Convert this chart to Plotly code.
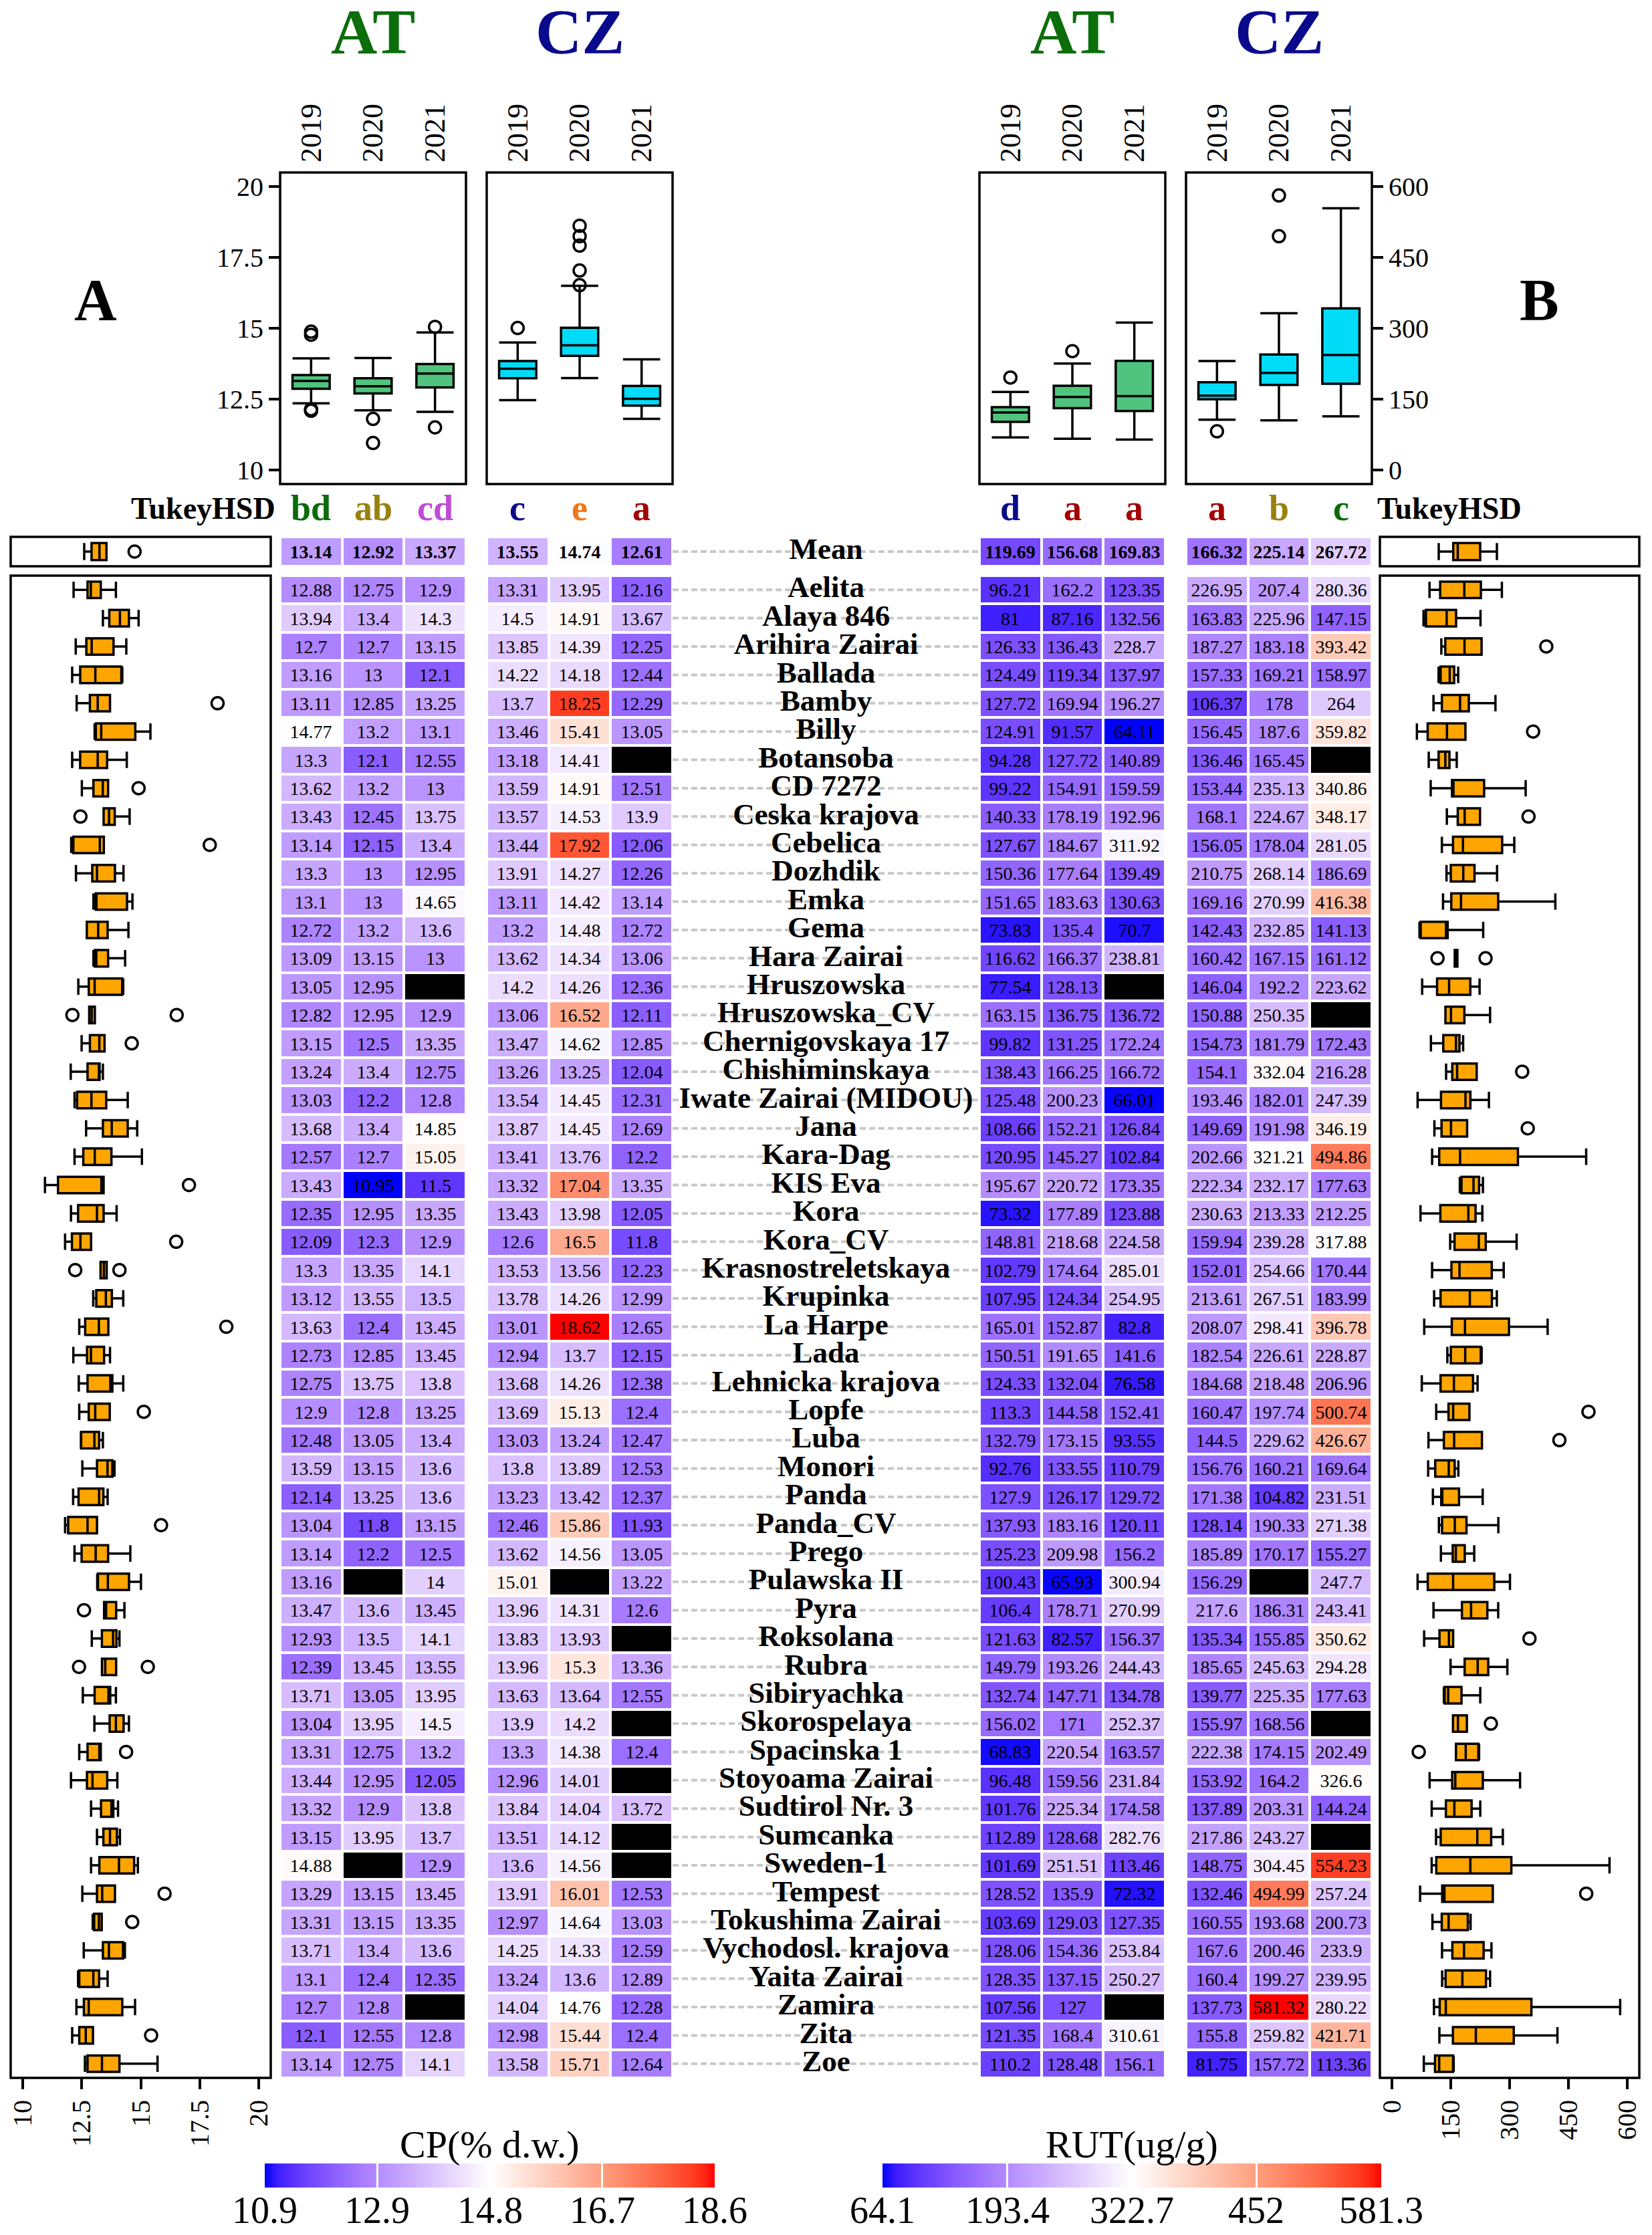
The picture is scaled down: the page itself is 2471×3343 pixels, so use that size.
import plotly.graph_objects as go
import numpy as np

# ---------------- DATA ----------------
varieties = ["Aelita", "Alaya 846", "Arihira Zairai", "Ballada", "Bamby", "Billy", "Botansoba",
             "CD 7272", "Ceska krajova", "Cebelica", "Dozhdik", "Emka", "Gema", "Hara Zairai",
             "Hruszowska", "Hruszowska_CV", "Chernigovskaya 17", "Chishiminskaya",
             "Iwate Zairai (MIDOU)", "Jana", "Kara-Dag", "KIS Eva", "Kora", "Kora_CV",
             "Krasnostreletskaya", "Krupinka", "La Harpe", "Lada", "Lehnicka krajova", "Lopfe",
             "Luba", "Monori", "Panda", "Panda_CV", "Prego", "Pulawska II", "Pyra", "Roksolana",
             "Rubra", "Sibiryachka", "Skorospelaya", "Spacinska 1", "Stoyoama Zairai",
             "Sudtirol Nr. 3", "Sumcanka", "Sweden-1", "Tempest", "Tokushima Zairai",
             "Vychodosl. krajova", "Yaita Zairai", "Zamira", "Zita", "Zoe"]
years = ["2019", "2020", "2021"]

cp_at_2019 = [12.88, 13.94, 12.7, 13.16, 13.11, 14.77, 13.3, 13.62, 13.43, 13.14, 13.3, 13.1, 12.72, 13.09,
              13.05, 12.82, 13.15, 13.24, 13.03, 13.68, 12.57, 13.43, 12.35, 12.09, 13.3, 13.12, 13.63,
              12.73, 12.75, 12.9, 12.48, 13.59, 12.14, 13.04, 13.14, 13.16, 13.47, 12.93, 12.39, 13.71,
              13.04, 13.31, 13.44, 13.32, 13.15, 14.88, 13.29, 13.31, 13.71, 13.1, 12.7, 12.1, 13.14]
cp_at_2020 = [12.75, 13.4, 12.7, 13, 12.85, 13.2, 12.1, 13.2, 12.45, 12.15, 13, 13, 13.2, 13.15, 12.95,
              12.95, 12.5, 13.4, 12.2, 13.4, 12.7, 10.95, 12.95, 12.3, 13.35, 13.55, 12.4, 12.85, 13.75,
              12.8, 13.05, 13.15, 13.25, 11.8, 12.2, None, 13.6, 13.5, 13.45, 13.05, 13.95, 12.75, 12.95,
              12.9, 13.95, None, 13.15, 13.15, 13.4, 12.4, 12.8, 12.55, 12.75]
cp_at_2021 = [12.9, 14.3, 13.15, 12.1, 13.25, 13.1, 12.55, 13, 13.75, 13.4, 12.95, 14.65, 13.6, 13, None,
              12.9, 13.35, 12.75, 12.8, 14.85, 15.05, 11.5, 13.35, 12.9, 14.1, 13.5, 13.45, 13.45, 13.8,
              13.25, 13.4, 13.6, 13.6, 13.15, 12.5, 14, 13.45, 14.1, 13.55, 13.95, 14.5, 13.2, 12.05,
              13.8, 13.7, 12.9, 13.45, 13.35, 13.6, 12.35, None, 12.8, 14.1]
cp_cz_2019 = [13.31, 14.5, 13.85, 14.22, 13.7, 13.46, 13.18, 13.59, 13.57, 13.44, 13.91, 13.11, 13.2,
              13.62, 14.2, 13.06, 13.47, 13.26, 13.54, 13.87, 13.41, 13.32, 13.43, 12.6, 13.53, 13.78,
              13.01, 12.94, 13.68, 13.69, 13.03, 13.8, 13.23, 12.46, 13.62, 15.01, 13.96, 13.83, 13.96,
              13.63, 13.9, 13.3, 12.96, 13.84, 13.51, 13.6, 13.91, 12.97, 14.25, 13.24, 14.04, 12.98, 13.58]
cp_cz_2020 = [13.95, 14.91, 14.39, 14.18, 18.25, 15.41, 14.41, 14.91, 14.53, 17.92, 14.27, 14.42, 14.48,
              14.34, 14.26, 16.52, 14.62, 13.25, 14.45, 14.45, 13.76, 17.04, 13.98, 16.5, 13.56, 14.26,
              18.62, 13.7, 14.26, 15.13, 13.24, 13.89, 13.42, 15.86, 14.56, None, 14.31, 13.93, 15.3,
              13.64, 14.2, 14.38, 14.01, 14.04, 14.12, 14.56, 16.01, 14.64, 14.33, 13.6, 14.76, 15.44, 15.71]
cp_cz_2021 = [12.16, 13.67, 12.25, 12.44, 12.29, 13.05, None, 12.51, 13.9, 12.06, 12.26, 13.14, 12.72,
              13.06, 12.36, 12.11, 12.85, 12.04, 12.31, 12.69, 12.2, 13.35, 12.05, 11.8, 12.23, 12.99,
              12.65, 12.15, 12.38, 12.4, 12.47, 12.53, 12.37, 11.93, 13.05, 13.22, 12.6, None, 13.36,
              12.55, None, 12.4, None, 13.72, None, None, 12.53, 13.03, 12.59, 12.89, 12.28, 12.4, 12.64]

rut_at_2019 = [96.21, 81, 126.33, 124.49, 127.72, 124.91, 94.28, 99.22, 140.33, 127.67, 150.36, 151.65,
               73.83, 116.62, 77.54, 163.15, 99.82, 138.43, 125.48, 108.66, 120.95, 195.67, 73.32, 148.81,
               102.79, 107.95, 165.01, 150.51, 124.33, 113.3, 132.79, 92.76, 127.9, 137.93, 125.23, 100.43,
               106.4, 121.63, 149.79, 132.74, 156.02, 68.83, 96.48, 101.76, 112.89, 101.69, 128.52, 103.69,
               128.06, 128.35, 107.56, 121.35, 110.2]
rut_at_2020 = [162.2, 87.16, 136.43, 119.34, 169.94, 91.57, 127.72, 154.91, 178.19, 184.67, 177.64, 183.63,
               135.4, 166.37, 128.13, 136.75, 131.25, 166.25, 200.23, 152.21, 145.27, 220.72, 177.89, 218.68,
               174.64, 124.34, 152.87, 191.65, 132.04, 144.58, 173.15, 133.55, 126.17, 183.16, 209.98, 65.93,
               178.71, 82.57, 193.26, 147.71, 171, 220.54, 159.56, 225.34, 128.68, 251.51, 135.9, 129.03,
               154.36, 137.15, 127, 168.4, 128.48]
rut_at_2021 = [123.35, 132.56, 228.7, 137.97, 196.27, 64.11, 140.89, 159.59, 192.96, 311.92, 139.49, 130.63,
               70.7, 238.81, None, 136.72, 172.24, 166.72, 66.01, 126.84, 102.84, 173.35, 123.88, 224.58,
               285.01, 254.95, 82.8, 141.6, 76.58, 152.41, 93.55, 110.79, 129.72, 120.11, 156.2, 300.94,
               270.99, 156.37, 244.43, 134.78, 252.37, 163.57, 231.84, 174.58, 282.76, 113.46, 72.32, 127.35,
               253.84, 250.27, None, 310.61, 156.1]
rut_cz_2019 = [226.95, 163.83, 187.27, 157.33, 106.37, 156.45, 136.46, 153.44, 168.1, 156.05, 210.75, 169.16,
               142.43, 160.42, 146.04, 150.88, 154.73, 154.1, 193.46, 149.69, 202.66, 222.34, 230.63, 159.94,
               152.01, 213.61, 208.07, 182.54, 184.68, 160.47, 144.5, 156.76, 171.38, 128.14, 185.89, 156.29,
               217.6, 135.34, 185.65, 139.77, 155.97, 222.38, 153.92, 137.89, 217.86, 148.75, 132.46, 160.55,
               167.6, 160.4, 137.73, 155.8, 81.75]
rut_cz_2020 = [207.4, 225.96, 183.18, 169.21, 178, 187.6, 165.45, 235.13, 224.67, 178.04, 268.14, 270.99,
               232.85, 167.15, 192.2, 250.35, 181.79, 332.04, 182.01, 191.98, 321.21, 232.17, 213.33, 239.28,
               254.66, 267.51, 298.41, 226.61, 218.48, 197.74, 229.62, 160.21, 104.82, 190.33, 170.17, None,
               186.31, 155.85, 245.63, 225.35, 168.56, 174.15, 164.2, 203.31, 243.27, 304.45, 494.99, 193.68,
               200.46, 199.27, 581.32, 259.82, 157.72]
rut_cz_2021 = [280.36, 147.15, 393.42, 158.97, 264, 359.82, None, 340.86, 348.17, 281.05, 186.69, 416.38,
               141.13, 161.12, 223.62, None, 172.43, 216.28, 247.39, 346.19, 494.86, 177.63, 212.25, 317.88,
               170.44, 183.99, 396.78, 228.87, 206.96, 500.74, 426.67, 169.64, 231.51, 271.38, 155.27, 247.7,
               243.41, 350.62, 294.28, 177.63, None, 202.49, 326.6, 144.24, None, 554.23, 257.24, 200.73,
               233.9, 239.95, 280.22, 421.71, 113.36]

cp_mean_at = [13.14, 12.92, 13.37]
cp_mean_cz = [13.55, 14.74, 12.61]
rut_mean_at = [119.69, 156.68, 169.83]
rut_mean_cz = [166.32, 225.14, 267.72]

tukey_cp = ["bd", "ab", "cd", "c", "e", "a"]
tukey_rut = ["d", "a", "a", "a", "b", "c"]

cp_axis_ticks = [10, 12.5, 15, 17.5, 20]
rut_axis_ticks = [0, 150, 300, 450, 600]

# ---------------- STYLE ----------------
W, H = 2471, 3343
OFF = 8  # default page body margin
FW, FH = W - 2 * OFF, H - 2 * OFF
FONT = "Liberation Serif"
tukey_cp_colors = ["#0b6b0b", "#9a800c", "#c04ad8", "#0a0a8c", "#f07818", "#a30000"]
tukey_rut_colors = ["#0a0a8c", "#a30000", "#a30000", "#a30000", "#9a800c", "#0b6b0b"]
GREEN_BOX = "#50c47e"
CYAN_BOX = "#00dcf8"
ORANGE = "#ffa500"


def px(x):
    return (x - OFF) / FW


def py(y):
    return 1 - (y - OFF) / FH


# Lab interpolated diverging colorscale blue-white-red
def _to_lab(rgb):
    lin = []
    for c in rgb:
        c = c / 255
        lin.append(c / 12.92 if c <= 0.04045 else ((c + 0.055) / 1.055) ** 2.4)
    X = (0.4124564 * lin[0] + 0.3575761 * lin[1] + 0.1804375 * lin[2]) / 0.95047
    Y = (0.2126729 * lin[0] + 0.7151522 * lin[1] + 0.0721750 * lin[2]) / 1.0
    Z = (0.0193339 * lin[0] + 0.1191920 * lin[1] + 0.9503041 * lin[2]) / 1.08883
    d = 6 / 29
    f = lambda t: t ** (1 / 3) if t > d ** 3 else t / (3 * d * d) + 4 / 29
    fx, fy, fz = f(X), f(Y), f(Z)
    return (116 * fy - 16, 500 * (fx - fy), 200 * (fy - fz))


def _from_lab(lab):
    L, a, b = lab
    d = 6 / 29
    fy = (L + 16) / 116
    fx = fy + a / 500
    fz = fy - b / 200
    finv = lambda t: t ** 3 if t > d else 3 * d * d * (t - 4 / 29)
    X, Y, Z = finv(fx) * 0.95047, finv(fy), finv(fz) * 1.08883
    r = 3.2404542 * X - 1.5371385 * Y - 0.4985314 * Z
    g = -0.9692660 * X + 1.8760108 * Y + 0.0415560 * Z
    bb = 0.0556434 * X - 0.2040259 * Y + 1.0572252 * Z
    out = []
    for c in (r, g, bb):
        c = min(1, max(0, c))
        v = 12.92 * c if c <= 0.0031308 else 1.055 * c ** (1 / 2.4) - 0.055
        out.append(int(round(v * 255)))
    return "rgb(%d,%d,%d)" % tuple(out)


def diverging_scale(n=20):
    low, mid, high = _to_lab((0, 0, 255)), _to_lab((255, 255, 255)), _to_lab((255, 0, 0))
    cs = []
    for i in range(n + 1):
        t = i / n
        lab = tuple(low[k] + (mid[k] - low[k]) * t for k in range(3))
        cs.append([0.5 * t, _from_lab(lab)])
    for i in range(1, n + 1):
        t = i / n
        lab = tuple(mid[k] + (high[k] - mid[k]) * t for k in range(3))
        cs.append([0.5 + 0.5 * t, _from_lab(lab)])
    return cs


CS = diverging_scale()

cp_cols_at = [cp_at_2019, cp_at_2020, cp_at_2021]
cp_cols_cz = [cp_cz_2019, cp_cz_2020, cp_cz_2021]
rut_cols_at = [rut_at_2019, rut_at_2020, rut_at_2021]
rut_cols_cz = [rut_cz_2019, rut_cz_2020, rut_cz_2021]

cp_all = [v for c in cp_cols_at + cp_cols_cz for v in c if v is not None]
rut_all = [v for c in rut_cols_at + rut_cols_cz for v in c if v is not None]
cp_min, cp_max = min(cp_all), max(cp_all)
rut_min, rut_max = min(rut_all), max(rut_all)


def fmt(v):
    return "" if v is None else "%g" % v


fig = go.Figure()


def add_heat(cols, names, xa, ya, cax, bold=False):
    z = [[c[i] for c in cols] for i in range(len(names))]
    text = [[fmt(v) for v in row] for row in z]
    fig.add_trace(go.Heatmap(z=z, x=years, y=names, text=text, texttemplate="%{text}",
                             textfont=dict(family=FONT, size=28, color="black",
                                           weight="bold" if bold else "normal"),
                             coloraxis=cax, xgap=4, ygap=4, xaxis=xa, yaxis=ya, hoverinfo="skip"))
    mask = [[1 if v is None else None for v in row] for row in z]
    if any(m is not None for row in mask for m in row):
        fig.add_trace(go.Heatmap(z=mask, x=years, y=names, colorscale=[[0, "black"], [1, "black"]],
                                 showscale=False, xgap=4, ygap=4, xaxis=xa, yaxis=ya, hoverinfo="skip"))


# main heatmaps
add_heat(cp_cols_at, varieties, "x5", "y10", "coloraxis")
add_heat(cp_cols_cz, varieties, "x6", "y10", "coloraxis")
add_heat(rut_cols_at, varieties, "x7", "y10", "coloraxis2")
add_heat(rut_cols_cz, varieties, "x8", "y10", "coloraxis2")
# mean row heatmaps
add_heat([[v] for v in cp_mean_at], ["Mean"], "x5", "y9", "coloraxis", bold=True)
add_heat([[v] for v in cp_mean_cz], ["Mean"], "x6", "y9", "coloraxis", bold=True)
add_heat([[v] for v in rut_mean_at], ["Mean"], "x7", "y9", "coloraxis2", bold=True)
add_heat([[v] for v in rut_mean_cz], ["Mean"], "x8", "y9", "coloraxis2", bold=True)

# dashed guide lines and names
lx, ly = [], []
for n in varieties:
    lx += [0, 1, None]
    ly += [n, n, None]
line_style = dict(color="#c8c8c8", width=4, dash="9px,5px")
fig.add_trace(go.Scatter(x=lx, y=ly, mode="lines", line=line_style, xaxis="x9", yaxis="y10", hoverinfo="skip"))
fig.add_trace(go.Scatter(x=[0, 1], y=["Mean", "Mean"], mode="lines", line=line_style, xaxis="x9", yaxis="y9",
                         hoverinfo="skip"))
name_font = dict(family=FONT, size=45, color="black", weight="bold")
fig.add_trace(go.Scatter(x=[0.5] * len(varieties), y=varieties, text=varieties, mode="text",
                         textfont=name_font, xaxis="x9", yaxis="y10", hoverinfo="skip"))
fig.add_trace(go.Scatter(x=[0.5], y=["Mean"], text=["Mean"], mode="text", textfont=name_font,
                         xaxis="x9", yaxis="y9", hoverinfo="skip"))

# per-variety horizontal boxplots
box_line = dict(color="black", width=3.5)
out_marker = dict(symbol="circle-open", color="black", size=18, line=dict(width=3.5, color="black"))


def hbox(cols, names, xa, ya):
    xs, ys = [], []
    for i, n in enumerate(names):
        for c in cols:
            if c[i] is not None:
                xs.append(c[i])
                ys.append(n)
    fig.add_trace(go.Box(x=xs, y=ys, orientation="h", fillcolor=ORANGE, line=box_line, marker=out_marker,
                         boxpoints="outliers", whiskerwidth=1, width=0.58, xaxis=xa, yaxis=ya,
                         hoverinfo="skip"))


hbox(cp_cols_at + cp_cols_cz, varieties, "x10", "y10")
hbox([[v] for v in cp_mean_at + cp_mean_cz], ["Mean"], "x11", "y9")
hbox(rut_cols_at + rut_cols_cz, varieties, "x12", "y10")
hbox([[v] for v in rut_mean_at + rut_mean_cz], ["Mean"], "x13", "y9")


# top vertical boxplots
def vbox(cols, color, xa, ya):
    xs, ys = [], []
    for yr, c in zip(years, cols):
        for v in c:
            if v is not None:
                xs.append(yr)
                ys.append(v)
    fig.add_trace(go.Box(x=xs, y=ys, fillcolor=color, line=box_line, marker=out_marker,
                         boxpoints="outliers", whiskerwidth=1, width=0.6, xaxis=xa, yaxis=ya,
                         hoverinfo="skip"))


vbox(cp_cols_at, GREEN_BOX, "x", "y")
vbox(cp_cols_cz, CYAN_BOX, "x2", "y2")
vbox(rut_cols_at, GREEN_BOX, "x3", "y3")
vbox(rut_cols_cz, CYAN_BOX, "x4", "y4")

# ---------------- LAYOUT ----------------
TOP = [py(724), py(258)]
MEAN = [py(847), py(803)]
MAIN = [py(3108), py(861)]
D_CP_AT = [px(419), px(697)]
D_CP_CZ = [px(728), px(1006)]
D_RUT_AT = [px(1465), px(1743)]
D_RUT_CZ = [px(1774), px(2052)]
D_NAMES = [px(1006), px(1465)]
D_LBOX = [px(16), px(405)]
D_RBOX = [px(2064), px(2452)]
CP_RANGE = [9.5, 20.5]
RUT_RANGE = [-30, 630]

hidden = dict(visible=False, showgrid=False, zeroline=False)
year_axis = dict(type="category", range=[-0.5, 2.5], side="top", tickangle=-90, ticks="",
                 tickfont=dict(family=FONT, size=44, color="black"), showgrid=False, zeroline=False,
                 showline=False, ticklabelstandoff=14)
tick_font = dict(family=FONT, size=40, color="black")
val_axis = dict(showgrid=False, zeroline=False, showline=False, ticks="outside", ticklen=16, tickwidth=3.5,
                tickcolor="black", tickfont=tick_font)

layout = dict(
    width=FW, height=FH, margin=dict(l=0, r=0, t=0, b=0, autoexpand=False), paper_bgcolor="white",
    plot_bgcolor="white", showlegend=False, font=dict(family=FONT, color="black"),
    xaxis=dict(domain=D_CP_AT, anchor="y", **year_axis),
    yaxis=dict(domain=TOP, anchor="x", range=CP_RANGE, tickvals=cp_axis_ticks, **val_axis),
    xaxis2=dict(domain=D_CP_CZ, anchor="y2", **year_axis),
    yaxis2=dict(domain=TOP, anchor="x2", range=CP_RANGE, showticklabels=False, ticks="", showgrid=False,
                zeroline=False),
    xaxis3=dict(domain=D_RUT_AT, anchor="y3", **year_axis),
    yaxis3=dict(domain=TOP, anchor="x3", range=RUT_RANGE, showticklabels=False, ticks="", showgrid=False,
                zeroline=False),
    xaxis4=dict(domain=D_RUT_CZ, anchor="y4", **year_axis),
    yaxis4=dict(domain=TOP, anchor="x4", range=RUT_RANGE, side="right", tickvals=rut_axis_ticks, **val_axis),
    xaxis5=dict(domain=D_CP_AT, anchor="y10", type="category", range=[-0.5, 2.5], **hidden),
    xaxis6=dict(domain=D_CP_CZ, anchor="y10", type="category", range=[-0.5, 2.5], **hidden),
    xaxis7=dict(domain=D_RUT_AT, anchor="y10", type="category", range=[-0.5, 2.5], **hidden),
    xaxis8=dict(domain=D_RUT_CZ, anchor="y10", type="category", range=[-0.5, 2.5], **hidden),
    xaxis9=dict(domain=D_NAMES, anchor="y10", range=[0, 1], **hidden),
    xaxis10=dict(domain=D_LBOX, anchor="y10", range=CP_RANGE, tickvals=cp_axis_ticks, tickangle=-90,
                 **val_axis),
    xaxis11=dict(domain=D_LBOX, anchor="y9", range=CP_RANGE, **hidden),
    xaxis12=dict(domain=D_RBOX, anchor="y10", range=RUT_RANGE, tickvals=rut_axis_ticks, tickangle=-90,
                 **val_axis),
    xaxis13=dict(domain=D_RBOX, anchor="y9", range=RUT_RANGE, **hidden),
    yaxis9=dict(domain=MEAN, anchor="x5", type="category", range=[-0.5, 0.5], **hidden),
    yaxis10=dict(domain=MAIN, anchor="x5", type="category", categoryorder="array", categoryarray=varieties,
                 range=[len(varieties) - 0.5, -0.5], **hidden),
)

CB_CP = (396, 1069)
CB_RUT = (1320, 2066)
CB_TOP, CB_THICK = 3236, 36


def cbar(vmin, vmax, x0, x1):
    tv = [float(v) for v in np.linspace(vmin, vmax, 5)]
    return dict(orientation="h", x=px((x0 + x1) / 2), xanchor="center", y=py(CB_TOP), yanchor="top",
                len=(x1 - x0) / FW, lenmode="fraction", thickness=CB_THICK, outlinewidth=0, xpad=0, ypad=0,
                tickvals=tv, ticks="inside", ticklen=CB_THICK, tickwidth=3, tickcolor="white",
                showticklabels=False)


layout["coloraxis"] = dict(colorscale=CS, cmin=cp_min, cmax=cp_max, colorbar=cbar(cp_min, cp_max, *CB_CP))
layout["coloraxis2"] = dict(colorscale=CS, cmin=rut_min, cmax=rut_max,
                            colorbar=cbar(rut_min, rut_max, *CB_RUT))

# frames
frame_line = dict(color="black", width=3.5)
shapes = []
for xr, yr in [("x", "y"), ("x2", "y2"), ("x3", "y3"), ("x4", "y4"), ("x10", "y10"), ("x11", "y9"),
               ("x12", "y10"), ("x13", "y9")]:
    shapes.append(dict(type="rect", xref=xr + " domain", yref=yr + " domain", x0=0, x1=1, y0=0, y1=1,
                       line=frame_line, fillcolor="rgba(0,0,0,0)", layer="above"))
layout["shapes"] = shapes

ann = []
for xa, txt, col in [("x", "AT", "#0b6e0b"), ("x2", "CZ", "#0a0a8c"), ("x3", "AT", "#0b6e0b"),
                     ("x4", "CZ", "#0a0a8c")]:
    ann.append(dict(text="<b>%s</b>" % txt, xref=xa + " domain", x=0.5, yref="paper", y=py(47),
                    showarrow=False, font=dict(family=FONT, size=96, color=col), xanchor="center",
                    yanchor="middle"))
ann.append(dict(text="<b>A</b>", xref="paper", x=px(143), xanchor="center", yref="paper", y=py(448),
                yanchor="middle", showarrow=False, font=dict(family=FONT, size=88, color="black")))
ann.append(dict(text="<b>B</b>", xref="paper", x=px(2302), xanchor="center", yref="paper", y=py(448),
                yanchor="middle", showarrow=False, font=dict(family=FONT, size=88, color="black")))
ann.append(dict(text="<b>TukeyHSD</b>", xref="paper", x=px(414), xanchor="right", yref="paper", y=py(760),
                yanchor="middle", showarrow=False, font=dict(family=FONT, size=46, color="black")))
ann.append(dict(text="<b>TukeyHSD</b>", xref="paper", x=px(2058), xanchor="left", yref="paper", y=py(760),
                yanchor="middle", showarrow=False, font=dict(family=FONT, size=46, color="black")))
for letters, colors, axes in [(tukey_cp, tukey_cp_colors, ["x", "x2"]), (tukey_rut, tukey_rut_colors, ["x3", "x4"])]:
    for k, (lt, cl) in enumerate(zip(letters, colors)):
        ann.append(dict(text="<b>%s</b>" % lt, xref=axes[k // 3], x=k % 3, xanchor="center", yref="paper",
                        y=py(760), yanchor="middle", showarrow=False, font=dict(family=FONT, size=54, color=cl)))

# colorbar titles and tick labels
for title, (x0, x1), (vmin, vmax) in [("CP(% d.w.)", CB_CP, (cp_min, cp_max)),
                                       ("RUT(ug/g)", CB_RUT, (rut_min, rut_max))]:
    ann.append(dict(text=title, xref="paper", x=px((x0 + x1) / 2), xanchor="center", yref="paper",
                    y=py(3207), yanchor="middle", showarrow=False,
                    font=dict(family=FONT, size=58, color="black")))
    for v in np.linspace(vmin, vmax, 5):
        v = float(v)
        xpos = x0 + (v - vmin) / (vmax - vmin) * (x1 - x0)
        ann.append(dict(text="%g" % round(v, 1), xref="paper", x=px(xpos), xanchor="center", yref="paper",
                        y=py(3306), yanchor="middle", showarrow=False,
                        font=dict(family=FONT, size=56, color="black")))
layout["annotations"] = ann

fig.update_layout(**layout)
fig.write_html("out.html")
